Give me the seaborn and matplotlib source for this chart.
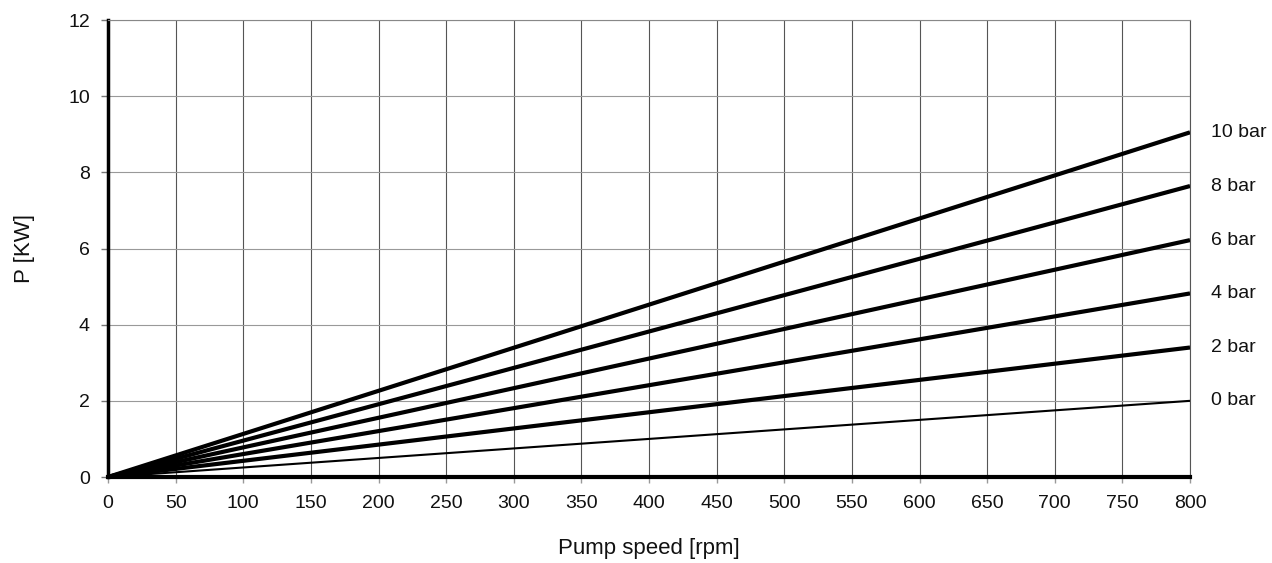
import matplotlib
matplotlib.use("Agg")
import matplotlib.pyplot as plt
import seaborn as sns
import pandas as pd

speed = [0, 800]
labels = ["0 bar", "2 bar", "4 bar", "6 bar", "8 bar", "10 bar"]
power_end = [2.0, 3.40, 4.82, 6.22, 7.64, 9.05]
x_ticks = list(range(0, 801, 50))
y_ticks = list(range(0, 13, 2))

sns.set_theme(style="white")
plt.rcParams['font.family'] = ['Liberation Sans', 'DejaVu Sans']

fig = plt.figure(figsize=(12.72, 5.63), dpi=100)
ax = fig.add_axes([108/1272, 1 - 477/563, (1190-108)/1272, (477-20)/563])

rows = []
for lab, p in zip(labels, power_end):
    rows.append({"speed": speed[0], "P": 0.0, "series": lab})
    rows.append({"speed": speed[1], "P": p, "series": lab})
df = pd.DataFrame(rows)

for lab, p in zip(labels, power_end):
    sub = df[df["series"] == lab]
    lw = 1.5 if lab == "0 bar" else 3.0
    sns.lineplot(data=sub, x="speed", y="P", ax=ax, color="black", linewidth=lw,
                 solid_capstyle="butt", zorder=5)
    ax.text(1.019, p / 12, lab, transform=ax.transAxes, ha="left", va="center",
            fontsize=14, color="#111111")

ax.set_xlim(0, 800)
ax.set_ylim(0, 12)
ax.set_xticks(x_ticks)
ax.set_yticks(y_ticks)
ax.tick_params(axis="x", length=4, width=1, color="#999999", pad=9, labelsize=14,
               labelcolor="#111111", bottom=True)
ax.tick_params(axis="y", length=5, width=1, color="#777777", pad=8, labelsize=14,
               labelcolor="#111111", left=True)

for xv in x_ticks:
    ax.axvline(xv, color="#555555", linewidth=0.8, zorder=1)
for yv in y_ticks:
    ax.axhline(yv, color="#999999", linewidth=0.8, zorder=1)

ax.spines["left"].set_color("black")
ax.spines["left"].set_linewidth(2.5)
ax.spines["bottom"].set_color("black")
ax.spines["bottom"].set_linewidth(3.0)
ax.spines["bottom"].set_zorder(6)
ax.spines["top"].set_color("#888888")
ax.spines["top"].set_linewidth(0.8)
ax.spines["right"].set_color("#555555")
ax.spines["right"].set_linewidth(0.8)

ax.set_xlabel("Pump speed [rpm]", fontsize=16, labelpad=19, color="#111111")
ax.set_ylabel("P [KW]", fontsize=16, labelpad=24, color="#111111")

fig.savefig("out.png", dpi=100)
